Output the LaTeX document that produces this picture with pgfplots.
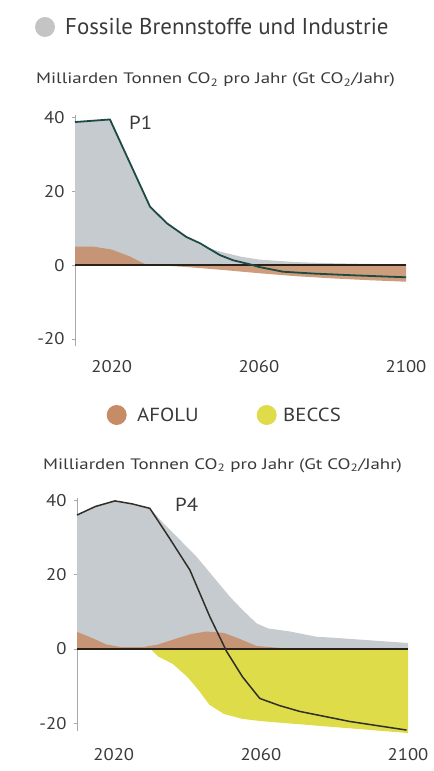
\documentclass[border=0pt]{standalone}
\usepackage{fontspec}
\setmainfont{PT Sans}
\newfontfamily\lblfont{PT Sans}[FakeStretch=1.25]
\newfontfamily\midfont{PT Sans}[FakeStretch=1.1]
\usepackage{pgfplots}
\pgfplotsset{compat=1.18}
\definecolor{fossil}{HTML}{C6CBD0}
\definecolor{afolu}{HTML}{C68C66}
\definecolor{beccs}{HTML}{DEDC48}
\definecolor{netA}{HTML}{1E4A44}
\definecolor{netB}{HTML}{2F2F28}
\definecolor{txt}{HTML}{3A3A3A}
\definecolor{axisgray}{HTML}{A8A8A8}
\definecolor{leggray}{HTML}{C4C4C4}
\definecolor{zeroc}{HTML}{2A2218}
\pgfplotsset{myax/.style={
  scale only axis, width=331bp,
  xmin=2010, xmax=2100, ymin=-22, ymax=40.5,
  axis y line=left, axis x line=bottom,
  x axis line style={draw=none},
  y axis line style={axisgray, line width=0.8bp, -},
  xtick={2020,2060,2100}, ytick={-20,0,20,40},
  x tick style={draw=none},
  y tick style={axisgray, line width=0.6bp},
  tick align=outside, major tick length=3bp,
  tick label style={font=\midfont\fontsize{17}{17}\selectfont, text=txt},
  yticklabel style={xshift=-4bp},
  /pgf/number format/assume math mode=true,
  /pgf/number format/1000 sep={},
  clip=false,
}}
\begin{document}
\begin{tikzpicture}
\useasboundingbox (0,0) rectangle (434bp,771bp);
% top legend
\node[circle, fill=leggray, minimum size=20bp, inner sep=0pt] at (45bp,744bp) {};
\node[anchor=west, font=\fontsize{23}{23}\selectfont, text=txt, inner sep=0pt] at (65bp,744bp) {Fossile Brennstoffe und Industrie};
\node[anchor=west, font=\lblfont\fontsize{15.2}{15.2}\selectfont, text=txt, inner sep=0pt] at (36bp,691bp) {Milliarden Tonnen CO\textsubscript{2} pro Jahr (Gt CO\textsubscript{2}/Jahr)};
\node[anchor=west, font=\midfont\fontsize{19}{19}\selectfont, text=txt, inner sep=0pt] at (129bp,648bp) {P1};

\begin{axis}[myax, height=231bp, at={(75bp,424.6bp)}, anchor=south west, xticklabel style={yshift=-8bp}]
\addplot[draw=none, fill=fossil] coordinates {(2010,0)(2010,38.7)(2019.5,39.4)(2030.4,15.8)(2035,11.3)(2040.3,7.6)(2045,5)(2050,3.5)(2055,2.3)(2060,1.5)(2070,0.8)(2080,0.5)(2090,0.3)(2100,0.2)(2100,0)};
\addplot[draw=none, fill=afolu, fill opacity=0.85] coordinates {(2010,0)(2010,5)(2015,5)(2020,4.2)(2025,2.3)(2029,0.3)(2032,0)(2040,-0.5)(2050,-1.3)(2060,-2.2)(2070,-3)(2080,-3.6)(2090,-4.1)(2100,-4.5)(2100,0)};
\addplot[zeroc, line width=1.8bp] coordinates {(2010,0)(2100,0)};
\addplot[netA, line width=1.8bp] coordinates {(2010,38.7)(2019.5,39.4)(2030.4,15.8)(2035,11.3)(2040.3,7.6)(2044,5.9)(2049.4,2.7)(2053,1.3)(2057.6,0.2)(2060,-0.5)(2066.6,-1.8)(2075,-2.3)(2086.5,-2.8)(2100,-3.3)};
\end{axis}

% middle legend
\node[circle, fill=afolu, minimum size=20bp, inner sep=0pt] at (116.7bp,356bp) {};
\node[anchor=west, font=\midfont\fontsize{19}{19}\selectfont, text=txt, inner sep=0pt] at (137bp,356bp) {AFOLU};
\node[circle, fill=beccs, minimum size=20bp, inner sep=0pt] at (266.7bp,356bp) {};
\node[anchor=west, font=\midfont\fontsize{19}{19}\selectfont, text=txt, inner sep=0pt] at (283bp,356bp) {BECCS};
\node[anchor=west, font=\lblfont\fontsize{15.2}{15.2}\selectfont, text=txt, inner sep=0pt] at (43bp,305.5bp) {Milliarden Tonnen CO\textsubscript{2} pro Jahr (Gt CO\textsubscript{2}/Jahr)};
\node[anchor=west, font=\midfont\fontsize{19}{19}\selectfont, text=txt, inner sep=0pt] at (175bp,266bp) {P4};

\begin{axis}[myax, height=232.5bp, at={(77bp,40.2bp)}, anchor=south west, xticklabel style={yshift=-11bp}]
\addplot[draw=none, fill=fossil] coordinates {(2010,0)(2010,36)(2015,38.3)(2020.3,39.8)(2025,39)(2029.8,37.8)(2033.5,33.8)(2042.5,24.8)(2051.6,14)(2055,10.5)(2058.8,6.9)(2062,5.5)(2067.9,4.7)(2075,3.3)(2080,3)(2090,2.3)(2100,1.6)(2100,0)};
\addplot[draw=none, fill=afolu, fill opacity=0.85] coordinates {(2010,0)(2010,4.6)(2014,3)(2018,1.2)(2022,0.5)(2028,0.5)(2032,1.2)(2037,2.8)(2041,4)(2045.2,4.7)(2050,4.3)(2054,2.8)(2058.8,0.8)(2065,0.3)(2070,0)};
\addplot[draw=none, fill=beccs] coordinates {(2030,0)(2032,-2)(2036,-4)(2040,-7.5)(2043,-11)(2046,-15)(2050,-17.5)(2055,-18.8)(2060,-19.4)(2070,-20.2)(2080,-21)(2090,-21.8)(2100,-22.6)(2100,0)};
\addplot[zeroc, line width=1.8bp] coordinates {(2010,0)(2100,0)};
\addplot[netB, line width=1.5bp] coordinates {(2010,36)(2015,38.3)(2020.3,39.8)(2025,39)(2029.8,37.8)(2035,30)(2040.7,21.2)(2046.1,8.7)(2050.7,-0.7)(2055,-7.5)(2059.7,-13.3)(2065,-15.2)(2070.6,-16.8)(2084.2,-19.5)(2099.6,-21.8)};
\end{axis}
\end{tikzpicture}
\end{document}
